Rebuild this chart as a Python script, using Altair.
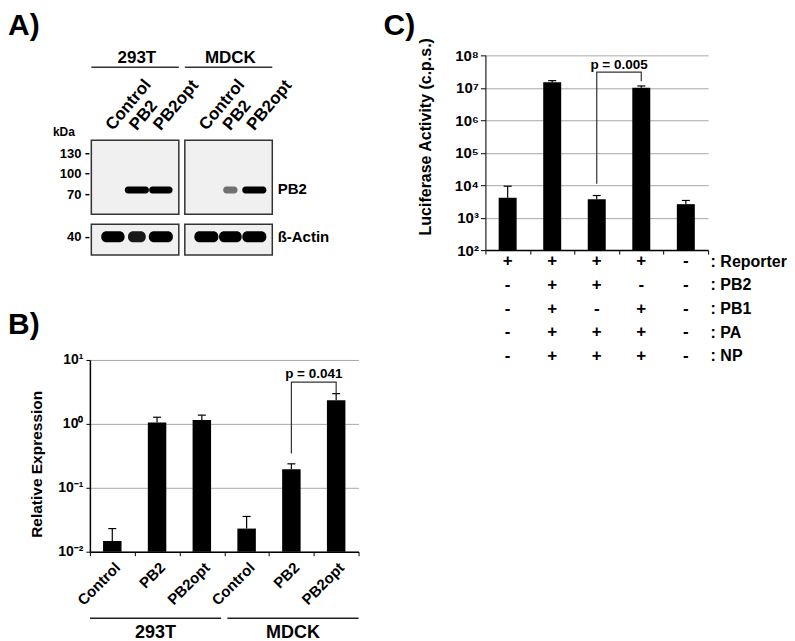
import altair as alt
import pandas as pd

FONT = "Liberation Sans"

# ---------------- Panel A : western blot ----------------
A_GROUPS = ["293T", "MDCK"]
A_LANES = ["Control", "PB2", "PB2opt"]
A_MARKERS = [130, 100, 70]
A_ACTIN_MARKER = [40]
A_PB2_KDA = 76
A_ACTIN_KDA = 40
A_PB2_SIGNAL = [0.0, 1.0, 0.95, 0.0, 0.3, 1.0]
A_ACTIN_SIGNAL = [0.95, 0.55, 1.0, 1.0, 0.9, 1.0]

# ---------------- Panel B : relative expression ----------------
B_CELLS = ["293T", "293T", "293T", "MDCK", "MDCK", "MDCK"]
B_SAMPLES = ["Control", "PB2", "PB2opt", "Control", "PB2", "PB2opt"]
B_MEAN = [0.0147, 1.05, 1.15, 0.023, 0.195, 2.35]
B_UPPER = [0.023, 1.27, 1.37, 0.0356, 0.237, 2.97]
B_TICKS = [0.01, 0.1, 1, 10]
B_TICK_LABELS = ["10⁻²", "10⁻¹", "10⁰", "10¹"]
B_GROUP_NAMES = ["293T", "MDCK"]
B_PAIR = ["MDCK|PB2", "MDCK|PB2", "MDCK|PB2opt", "MDCK|PB2opt"]
B_BRACKET_Y = [0.344, 4.5, 4.5, 3.0]
B_P_TEXT = "p = 0.041"
B_P_Y = 6.0

# ---------------- Panel C : luciferase activity ----------------
C_LANES = ["1", "2", "3", "4", "5"]
C_MEAN = [4100, 1.48e7, 3700, 1.01e7, 2600]
C_UPPER = [9300, 1.66e7, 4800, 1.14e7, 3380]
C_TICKS = [1e2, 1e3, 1e4, 1e5, 1e6, 1e7, 1e8]
C_TICK_LABELS = ["10²", "10³", "10⁴", "10⁵", "10⁶", "10⁷", "10⁸"]
C_COMPONENTS = ["Reporter", "PB2", "PB1", "PA", "NP"]
C_SIGNS = ["++++-", "-++--", "-+-+-", "-+++-", "-+++-"]
C_PAIR = ["3", "3", "4", "4"]
C_BRACKET_Y = [1.1e4, 3.06e7, 3.06e7, 1.58e7]
C_P_TEXT = "p = 0.005"
C_P_Y = 5.1e7


def label_expr(ticks, labels):
    expr = "''"
    for t, l in reversed(list(zip(ticks, labels))):
        expr = f"abs(datum.value - {t}) < {t * 1e-3} ? '{l}' : ({expr})"
    return expr


BOLD = "bold"
LETTER_Y = -20

# ================= Panel A =================
LANE_GAP = 3.9
BOX_L, BOX_R = 0.9, 0.75
A_W = 180
A_XDOM = [-0.96, 6.54]
xs = alt.Scale(domain=A_XDOM, nice=False, zero=False)

rows = []
for gi, g in enumerate(A_GROUPS):
    for li, ln in enumerate(A_LANES):
        k = gi * 3 + li
        rows.append(dict(group=g, lane=ln, pos=li + gi * LANE_GAP,
                         pb2=A_PB2_SIGNAL[k], actin=A_ACTIN_SIGNAL[k],
                         kda_pb2=A_PB2_KDA, kda_actin=A_ACTIN_KDA))
lanes = pd.DataFrame(rows)
boxes = lanes.groupby("group").agg(x0=("pos", "min"), x1=("pos", "max"),
                                   xc=("pos", "mean")).reset_index()
boxes["x0"] = boxes["x0"] - BOX_L
boxes["x1"] = boxes["x1"] + BOX_R


def txt(s):
    return alt.Chart(pd.DataFrame({"t": [s]}))


head = alt.layer(
    txt("A)").mark_text(fontSize=30, fontWeight=BOLD, align="left",
                        baseline="alphabetic").encode(
        x=alt.value(-82), y=alt.value(LETTER_Y), text="t:N"),
    alt.Chart(boxes).mark_text(fontSize=17, fontWeight=BOLD,
                               baseline="alphabetic").encode(
        x=alt.X("xc:Q", scale=xs, axis=None), y=alt.value(8), text="group:N"),
    alt.Chart(boxes).mark_rule(strokeWidth=1.5, color="#333").encode(
        x=alt.X("x0:Q", scale=xs, axis=None), x2="x1:Q", y=alt.value(12)),
).properties(width=A_W, height=75)

sig_color = alt.Scale(domain=[0, 0.6], range=["#f0f0f0", "#000000"], clamp=True)
sig_size = alt.Scale(domain=[0, 1], range=[10, 24])


def blot_axis(vals):
    return alt.Axis(values=vals, title=None, domain=False, grid=False,
                    tickSize=4, tickColor="black", tickWidth=1.5, offset=1,
                    labelFontSize=13, labelFontWeight=BOLD, labelPadding=4)


A1_H = 74
pb2_blot = alt.layer(
    alt.Chart(boxes).mark_rect(fill="#f0f0f0", stroke="#333", strokeWidth=1.5).encode(
        x=alt.X("x0:Q", scale=xs, axis=None), x2="x1:Q",
        y=alt.value(0), y2=alt.value(A1_H)),
    alt.Chart(lanes).transform_filter("datum.pb2 > 0").mark_tick(
        orient="horizontal", thickness=7, cornerRadius=3, opacity=1).encode(
        x=alt.X("pos:Q", scale=xs, axis=None),
        y=alt.Y("kda_pb2:Q", scale=alt.Scale(domain=[40.7, 149], nice=False, zero=False),
                axis=blot_axis(A_MARKERS)),
        size=alt.Size("pb2:Q", scale=sig_size, legend=None),
        color=alt.Color("pb2:Q", scale=sig_color, legend=None)),
    alt.Chart(lanes).mark_text(angle=310, align="left", baseline="alphabetic",
                               fontSize=17, fontWeight=BOLD).encode(
        x=alt.X("pos:Q", scale=xs, axis=None), y=alt.value(-9), text="lane:N"),
    txt("kDa").mark_text(align="right", baseline="alphabetic", fontSize=12,
                         fontWeight=BOLD).encode(x=alt.value(-15), y=alt.value(-4), text="t:N"),
    txt("PB2").mark_text(align="left", baseline="middle", fontSize=15,
                         fontWeight=BOLD).encode(x=alt.value(188), y=alt.value(49), text="t:N"),
).properties(width=A_W, height=A1_H)

A2_H = 31
actin_blot = alt.layer(
    alt.Chart(boxes).mark_rect(fill="#f0f0f0", stroke="#333", strokeWidth=1.5).encode(
        x=alt.X("x0:Q", scale=xs, axis=None), x2="x1:Q",
        y=alt.value(0), y2=alt.value(A2_H)),
    alt.Chart(lanes).mark_tick(orient="horizontal", thickness=11, cornerRadius=5,
                               opacity=1).encode(
        x=alt.X("pos:Q", scale=xs, axis=None),
        y=alt.Y("kda_actin:Q", scale=alt.Scale(domain=[32, 45.5], nice=False, zero=False),
                axis=blot_axis(A_ACTIN_MARKER)),
        size=alt.Size("actin:Q", scale=sig_size, legend=None),
        color=alt.Color("actin:Q", scale=sig_color, legend=None)),
    txt("ß-Actin").mark_text(align="left", baseline="middle", fontSize=15,
                             fontWeight=BOLD).encode(x=alt.value(188), y=alt.value(13), text="t:N"),
).properties(width=A_W, height=A2_H)

panel_a = alt.vconcat(head, pb2_blot, actin_blot, spacing=10, bounds="flush")

# ================= Panel B =================
B_W, B_H = 269, 192
b_keys = [f"{c}|{s}" for c, s in zip(B_CELLS, B_SAMPLES)]
dfb = pd.DataFrame(dict(key=b_keys, cell=B_CELLS, sample=B_SAMPLES,
                        mean=B_MEAN, upper=B_UPPER))
bx_scale = alt.Scale(domain=b_keys, paddingInner=0, paddingOuter=0)
bx = alt.X("key:N", sort=b_keys, scale=bx_scale, axis=alt.Axis(
    title=None, labelExpr="split(datum.label, '|')[1]", labelAngle=315,
    labelFontSize=15, labelFontWeight=BOLD, labelPadding=4,
    tickBand="extent", tickSize=4, tickColor="black",
    domainColor="black", domainWidth=1.5))
by_scale = alt.Scale(type="log", domain=[B_TICKS[0], B_TICKS[-1]], nice=False)
by = alt.Y("mean:Q", scale=by_scale, axis=alt.Axis(
    values=B_TICKS, labelExpr=label_expr(B_TICKS, B_TICK_LABELS),
    grid=True, gridColor="#a8a8a8", gridWidth=1,
    tickSize=4, tickColor="black", domainColor="black", domainWidth=1.5,
    labelFontSize=14, labelFontWeight=BOLD, labelPadding=3,
    title="Relative Expression", titleFontSize=15.5, titleFontWeight=BOLD,
    titleX=-45, titleY=104))

b_base = alt.Chart(dfb)
b_bracket = pd.DataFrame(dict(key=B_PAIR, y=B_BRACKET_Y, o=[0, 1, 2, 3]))
b_main = alt.layer(
    b_base.mark_bar(color="black", size=18.5, opacity=1).encode(
        x=bx, y=by, y2=alt.datum(B_TICKS[0])),
    b_base.mark_rule(color="black", strokeWidth=1.2).encode(
        x=alt.X("key:N", sort=b_keys, scale=bx_scale),
        y=alt.Y("mean:Q", scale=by_scale), y2="upper:Q"),
    b_base.mark_tick(orient="horizontal", size=8, thickness=1.2, color="black",
                     opacity=1).encode(
        x=alt.X("key:N", sort=b_keys, scale=bx_scale),
        y=alt.Y("upper:Q", scale=by_scale)),
    alt.Chart(b_bracket).mark_line(color="#333", strokeWidth=1.2).encode(
        x=alt.X("key:N", sort=b_keys, scale=bx_scale),
        y=alt.Y("y:Q", scale=by_scale), order="o:Q"),
    alt.Chart(pd.DataFrame(dict(key=[B_PAIR[-1]], y=[B_P_Y], t=[B_P_TEXT]))).mark_text(
        fontSize=13.5, fontWeight=BOLD, dx=-22.4, baseline="middle").encode(
        x=alt.X("key:N", sort=b_keys, scale=bx_scale),
        y=alt.Y("y:Q", scale=by_scale), text="t:N"),
    txt("B)").mark_text(fontSize=30, fontWeight=BOLD, align="left",
                        baseline="alphabetic").encode(
        x=alt.value(-82), y=alt.value(-26), text="t:N"),
)
dfg = pd.DataFrame(dict(cell=B_GROUP_NAMES))
gx = alt.X("cell:N", sort=B_GROUP_NAMES,
           scale=alt.Scale(domain=B_GROUP_NAMES, paddingInner=0.045, paddingOuter=0),
           axis=None)
b_groups = alt.layer(
    alt.Chart(dfg).mark_bar(color="#222").encode(x=gx, y=alt.value(258), y2=alt.value(259.5)),
    alt.Chart(dfg).mark_text(fontSize=18, fontWeight=BOLD, baseline="alphabetic").encode(
        x=gx, y=alt.value(278), text="cell:N"),
)
panel_b = alt.layer(b_main, b_groups).resolve_scale(x="independent").properties(
    width=B_W, height=B_H)

# ================= Panel C =================
C_W, C_H = 223, 195
dfc = pd.DataFrame(dict(lane=C_LANES, mean=C_MEAN, upper=C_UPPER))
cx_scale = alt.Scale(domain=C_LANES, paddingInner=0, paddingOuter=0)
cx = alt.X("lane:N", sort=C_LANES, scale=cx_scale, axis=alt.Axis(
    title=None, labels=False, tickBand="extent", tickSize=4, tickColor="black",
    domainColor="black", domainWidth=1.5))
cy_scale = alt.Scale(type="log", domain=[C_TICKS[0], C_TICKS[-1]], nice=False)
cy = alt.Y("mean:Q", scale=cy_scale, axis=alt.Axis(
    values=C_TICKS, labelExpr=label_expr(C_TICKS, C_TICK_LABELS),
    grid=True, gridColor="#a8a8a8", gridWidth=1,
    tickSize=5, tickColor="black", domainColor="#222", domainWidth=1.2,
    labelFontSize=15, labelFontWeight=BOLD, labelPadding=2,
    title="Luciferase Activity (c.p.s.)", titleFontSize=16, titleFontWeight=BOLD,
    titleX=-52, titleY=81))

c_base = alt.Chart(dfc)
c_bracket = pd.DataFrame(dict(lane=C_PAIR, y=C_BRACKET_Y, o=[0, 1, 2, 3]))
c_main = alt.layer(
    c_base.mark_bar(color="black", size=18, opacity=1).encode(
        x=cx, y=cy, y2=alt.datum(C_TICKS[0])),
    c_base.mark_rule(color="black", strokeWidth=1.2).encode(
        x=alt.X("lane:N", sort=C_LANES, scale=cx_scale),
        y=alt.Y("mean:Q", scale=cy_scale), y2="upper:Q"),
    c_base.mark_tick(orient="horizontal", size=8, thickness=1.2, color="black",
                     opacity=1).encode(
        x=alt.X("lane:N", sort=C_LANES, scale=cx_scale),
        y=alt.Y("upper:Q", scale=cy_scale)),
    alt.Chart(c_bracket).mark_line(color="#333", strokeWidth=1.2).encode(
        x=alt.X("lane:N", sort=C_LANES, scale=cx_scale),
        y=alt.Y("y:Q", scale=cy_scale), order="o:Q"),
    alt.Chart(pd.DataFrame(dict(lane=[C_PAIR[-1]], y=[C_P_Y], t=[C_P_TEXT]))).mark_text(
        fontSize=13.5, fontWeight=BOLD, dx=-22.3, baseline="middle").encode(
        x=alt.X("lane:N", sort=C_LANES, scale=cx_scale),
        y=alt.Y("y:Q", scale=cy_scale), text="t:N"),
    txt("C)").mark_text(fontSize=30, fontWeight=BOLD, align="left",
                        baseline="alphabetic").encode(
        x=alt.value(-102), y=alt.value(LETTER_Y), text="t:N"),
)
trows = []
for comp, signs in zip(C_COMPONENTS, C_SIGNS):
    for lane, s in zip(C_LANES, signs):
        trows.append(dict(lane=lane, comp=comp, sign=s))
dft = pd.DataFrame(trows)
c_table = alt.Chart(dft).mark_text(fontSize=17, fontWeight=BOLD, baseline="middle").encode(
    x=alt.X("lane:N", sort=C_LANES, scale=cx_scale),
    y=alt.Y("comp:N", sort=C_COMPONENTS,
            scale=alt.Scale(type="point", domain=C_COMPONENTS, range=[206, 301], padding=0),
            axis=alt.Axis(orient="right", title=None, domain=False, ticks=False, grid=False,
                          labelExpr="': ' + datum.label", labelFontSize=16,
                          labelFontWeight=BOLD, labelPadding=2, labelAlign="left")),
    text="sign:N")
panel_c = alt.layer(c_main, c_table).resolve_scale(y="independent").properties(
    width=C_W, height=C_H)

# ================= assemble =================
left = alt.vconcat(panel_a, panel_b, spacing=54)
chart = alt.hconcat(left, panel_c, spacing=24).properties(
    padding={"top": 3, "left": 0, "right": 0, "bottom": 0}).configure(
    font=FONT).configure_view(strokeWidth=0).configure_axis(
    labelFont=FONT, titleFont=FONT, labelColor="black", titleColor="black")

chart.save("out.html", embed_options={"renderer": "svg", "actions": False})
